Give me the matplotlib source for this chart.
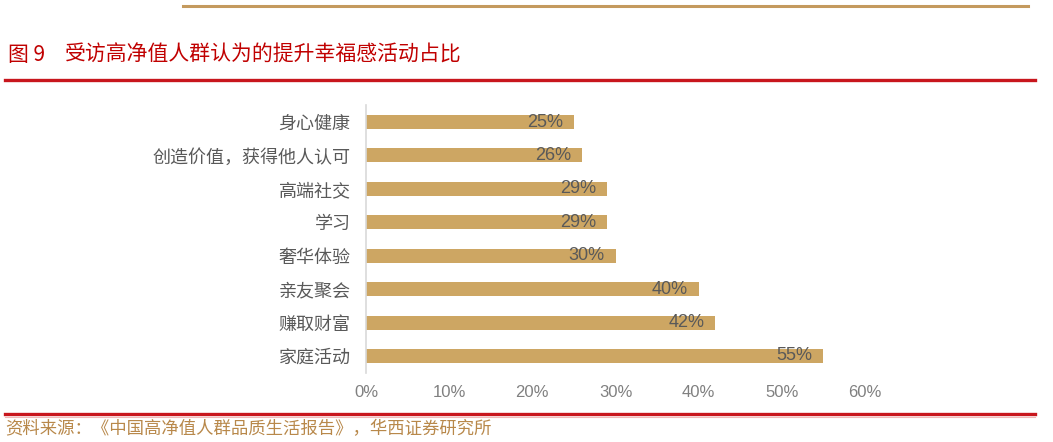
import matplotlib
matplotlib.use("Agg")
import matplotlib.pyplot as plt
from matplotlib import font_manager
from matplotlib.lines import Line2D

categories = ["身心健康", "创造价值，获得他人认可", "高端社交", "学习", "奢华体验", "亲友聚会", "赚取财富", "家庭活动"]
values = [25, 26, 29, 29, 30, 40, 42, 55]
xticks = [0, 10, 20, 30, 40, 50, 60]
xtick_labels = ["0%", "10%", "20%", "30%", "40%", "50%", "60%"]
title_num = "图 9"
title_text = "受访高净值人群认为的提升幸福感活动占比"
source_text = "资料来源：《中国高净值人群品质生活报告》，华西证券研究所"

names = {f.name for f in font_manager.fontManager.ttflist}
if "Liberation Sans Narrow" in names:
    num_font = "Liberation Sans Narrow"
elif "Liberation Sans" in names:
    num_font = "Liberation Sans"
else:
    num_font = "DejaVu Sans"
cjk = ["Noto Sans CJK SC", "DejaVu Sans"]
plt.rcParams['font.family'] = cjk

W, H = 1053, 442
fig = plt.figure(figsize=(W / 100, H / 100), dpi=100)

def fx(px):
    return px / W

def fy(py):
    return 1 - py / H

ax = fig.add_axes([fx(366), fy(372.7), fx(865) - fx(366), fy(105.3) - fy(372.7)])
bar_color = "#CDA663"
y = list(range(len(categories)))
ax.barh(y, values, height=0.42, color=bar_color)
ax.set_xlim(0, 60)
ax.set_ylim(len(categories) - 0.5, -0.5)
ax.set_yticks(y)
ax.set_yticklabels(categories, fontsize=13, color="#595959")
ax.set_xticks(xticks)
ax.set_xticklabels(xtick_labels, fontsize=12, color="#808080", family=[num_font, "DejaVu Sans"])
ax.tick_params(axis="y", length=0, pad=11)
ax.tick_params(axis="x", length=0, pad=9)
for s in ["top", "right", "bottom"]:
    ax.spines[s].set_visible(False)
ax.spines["left"].set_color("#D9D9D9")
ax.spines["left"].set_linewidth(1.2)

for yi, v in zip(y, values):
    ax.annotate(f"{v}%", xy=(v, yi), xytext=(-8, 0), textcoords="offset points",
                ha="right", va="center", fontsize=13, color="#595959",
                family=[num_font, "DejaVu Sans"])

# decorative lines
fig.add_artist(Line2D([fx(183), fx(1028)], [fy(6), fy(6)], color="#C49A5E", lw=2.2))
fig.add_artist(Line2D([fx(5), fx(1035)], [fy(80), fy(80)], color="#C8161D", lw=2.4))
fig.add_artist(Line2D([fx(5), fx(1035)], [fy(414), fy(414)], color="#C8161D", lw=2.4))
fig.add_artist(Line2D([fx(5), fx(1035)], [fy(416.5), fy(416.5)], color="#F2B8B8", lw=0.8))

fig.text(fx(8), fy(55), title_num, fontsize=15, color="#C00000", va="center", ha="left")
fig.text(fx(65), fy(55), title_text, fontsize=15, color="#C00000", va="center", ha="left")
fig.text(fx(5), fy(429), source_text, fontsize=12.5, color="#B8884A", va="center", ha="left")

fig.savefig("out.png", dpi=100)
